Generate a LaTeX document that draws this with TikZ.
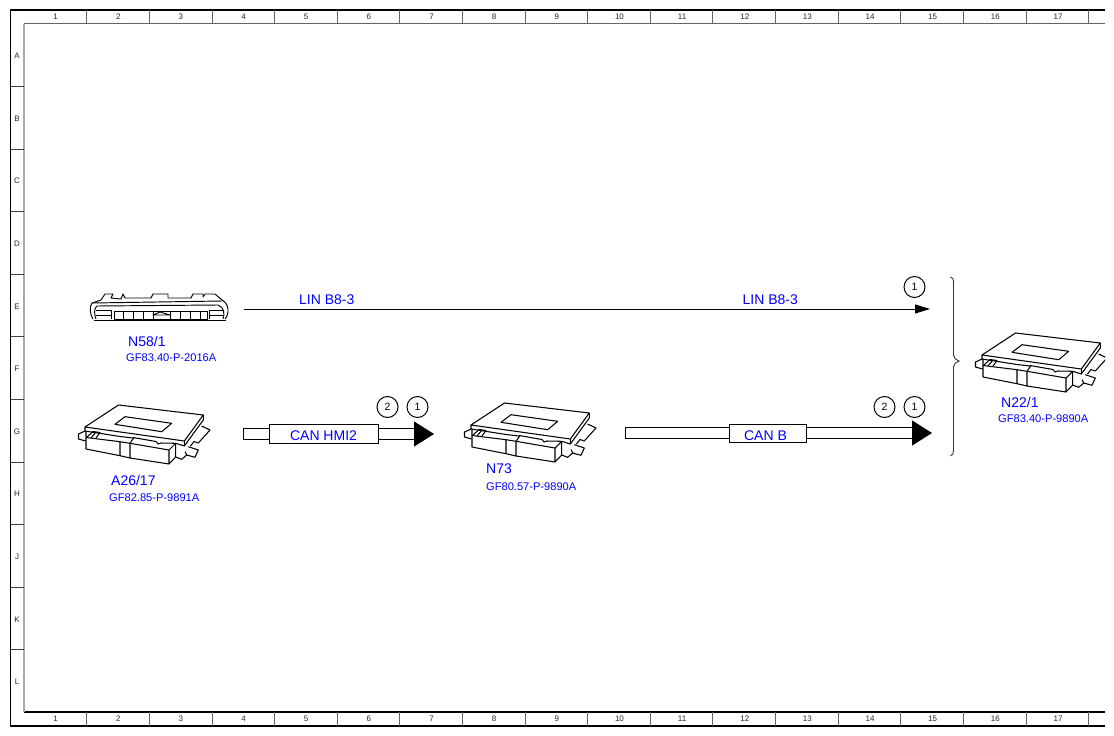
\documentclass[tikz,border=0pt]{standalone}
\usepackage{fontspec}
\setmainfont{Liberation Sans}
\usetikzlibrary{arrows.meta}
\definecolor{labelblue}{RGB}{0,0,255}
\definecolor{framegrey}{RGB}{100,100,100}
\definecolor{railgrey}{RGB}{170,170,170}
\tikzset{
  gridtext/.style={font=\fontsize{8}{9}\selectfont,text=black!85,inner sep=0pt},
  tag/.style={font=\fontsize{14}{16}\selectfont,text=labelblue,inner sep=0pt,anchor=west},
  code/.style={font=\fontsize{11.1}{13}\selectfont,text=labelblue,inner sep=0pt,anchor=west},
  refmark/.style={circle,draw,line width=1pt,minimum size=21pt,inner sep=0pt,font=\fontsize{10.5}{12}\selectfont},
  busbox/.style={draw,line width=1pt,fill=white,inner sep=0pt,minimum height=18.5pt,font=\fontsize{14}{16}\selectfont,text=labelblue},
  bus/.style={line width=1.1pt,double,double distance=9.5pt,line cap=butt},
  busend/.style={line width=1.1pt,line cap=rect},
  bushead/.style={-{Triangle[length=20pt,width=25pt]},line width=1pt},
  thin line/.style={line width=1.05pt,line join=round},
  ecu/.pic={
    \begin{scope}[thin line]
      % flanges
      \draw (85,431) -- (78.5,434) -- (78.5,439) -- (85.5,441);
      \draw (201.5,426) -- (210,430) -- (198.3,443) -- (194,441.5) -- (190.5,446);
      \draw (188.3,446.7) -- (198.3,450) -- (195,457.3) -- (186.7,455) -- (185,451.5);
      \draw (175.7,457) -- (181.7,459.3) -- (186.7,455);
      % plate
      \draw (85,427) -- (118.5,405) -- (203.3,415) -- (184.3,441) -- cycle;
      \draw (85,427) -- (85,431) -- (120,436.5) -- (133,438);
      \draw (203.3,415) -- (203.3,420) -- (184.3,446) -- (184.3,441);
      \draw (184.3,446) -- (175.7,443.3);
      % window
      \draw (115,424.3) -- (125,416.7) -- (171.7,423.3) -- (161.7,431.7) -- cycle;
      % left connector
      \draw (86,431) -- (86,449) -- (120,455.7) -- (120,441.7) -- (86,437.5);
      \draw (87,437) -- (93,431.5) -- (100,432.5) -- (96,438);
      \draw (91,438) -- (96,432);
      % middle
      \draw (120,441.7) -- (130,443.3) -- (130,458);
      \draw (120,455.7) -- (130,458);
      \draw (130,443.3) -- (134,437.5);
      % right connector
      \draw (130,458) -- (169,464) -- (169,450) -- (130,443.3);
      \draw (133,437.5) -- (156,441.5) -- (158,444) -- (161,443) -- (175.7,443.3);
      \draw (169,464) -- (175.7,457) -- (175.7,443.3) -- (169,450);
    \end{scope}
  },
  hvac/.pic={
    \begin{scope}[line width=0.95pt,line join=round]
      \draw (93,319) .. controls (89.5,314) and (89.5,306) .. (92,303) -- (101,300) -- (105,294) -- (113,294) -- (111,298)
        -- (121,299) -- (123,294) -- (125,298) -- (151,298) -- (153,294) -- (168,294) -- (168,298) -- (191,298)
        -- (193,294) -- (203,294) -- (203,297) -- (205,294) -- (215,294) -- (222,300)
        .. controls (229.5,304) and (229.5,314) .. (225,319);
      \draw (92,303) -- (222,301);
      \draw (96,319) .. controls (94,314) and (94,308) .. (97,306) -- (218,305) .. controls (224,307) and (225,314) .. (223,319);
      \draw (94,320) -- (226,320);
      \draw (96,310.5) -- (111,310.5) -- (111,319);
      \draw (96,315) -- (111,315);
      \draw (209,310.5) -- (224,310.5);
      \draw (209,315) -- (224,315);
      \draw (209,310.5) -- (209,319);
      \draw (114,311.5) -- (207,311.5) -- (207,319) -- (114,319) -- cycle;
      \foreach \xc in {123,133,143,153,170,180,190,200} \draw (\xc,311.5) -- (\xc,319);
      \draw (153,315) -- (160,312) -- (170,315) -- cycle;
    \end{scope}
  }
}
\begin{document}
\begin{tikzpicture}[x=1pt,y=-1pt]
\useasboundingbox (0,0) rectangle (1114,736);
\fill[white] (0,0) rectangle (1114,736);
% frame
\draw[line width=1.4pt] (1105,10) -- (10.5,10) -- (10.5,726) -- (1105,726);
\draw[line width=1.1pt] (24,712) -- (1105,712);
\draw[line width=1.2pt,framegrey] (24,23.5) -- (1105,23.5);
\draw[line width=1.6pt,railgrey] (24,23.5) -- (24,712);
\foreach \xc in {86.5,149,212,274.5,337,399.5,462,525,587.5,650,712.5,775,838,900.5,963,1026,1088}{
  \draw[line width=1pt,framegrey] (\xc,10) -- (\xc,23.5);
  \draw[line width=1pt,framegrey] (\xc,712) -- (\xc,726);
}
\foreach \yc in {86,149,211,274,336,399,462,524,587,649}
  \draw[line width=1pt,black!75] (10.5,\yc) -- (24,\yc);
\foreach \lab [count=\i] in {1,...,17}{
  \pgfmathsetmacro{\xl}{55.6+62.65*(\i-1)}
  \node[gridtext] (top\i) at (\xl,17) {\lab};
  \node[gridtext] (bot\i) at (\xl,719) {\lab};
}
\foreach \lab [count=\i] in {A,B,C,D,E,F,G,H,J,K,L}{
  \pgfmathsetmacro{\yl}{56+62.6*(\i-1)}
  \node[gridtext] (row\i) at (17,\yl) {\lab};
}
% devices
\pic {hvac};
\pic {ecu};
\begin{scope}[shift={(386,-2)}] \pic {ecu}; \end{scope}
\begin{scope}
  \clip (0,0) rectangle (1105,736);
  \begin{scope}[shift={(897,-72)}] \pic {ecu}; \end{scope}
\end{scope}
% device labels
\node[tag] (n58) at (128,341) {N58/1};
\node[code] (n58c) at (126,358) {GF83.40-P-2016A};
\node[tag] (a26) at (111,480) {A26/17};
\node[code] (a26c) at (109,498) {GF82.85-P-9891A};
\node[tag] (n73) at (486,469) {N73};
\node[code] (n73c) at (486,487) {GF80.57-P-9890A};
\node[tag] (n22) at (1001,402) {N22/1};
\node[code] (n22c) at (998,419) {GF83.40-P-9890A};
% LIN
\coordinate (linA) at (244,309);
\coordinate (linB) at (930,309);
\draw[line width=0.95pt,-{Triangle[length=15pt,width=9pt]}] (linA) -- (linB);
\node[tag] (lin1) at (299,299.5) {LIN B8-3};
\node[tag] (lin2) at (742.5,299.5) {LIN B8-3};
% CAN HMI2
\coordinate (hmiA) at (243.5,434);
\coordinate (hmiM) at (415,434);
\coordinate (hmiB) at (434,434);
\draw[bus] (hmiA) -- (hmiM);
\draw[busend] ([yshift=-5.3pt]hmiA) -- ([yshift=5.3pt]hmiA);
\draw[bushead] (hmiM) -- (hmiB);
\node[busbox,minimum width=109pt] (hmi) at (323.5,434) {\raisebox{-6.5pt}[0pt][0pt]{CAN HMI2}};
% CAN B
\coordinate (canA) at (625.5,433);
\coordinate (canM) at (913,433);
\coordinate (canB) at (932,433);
\draw[bus] (canA) -- (canM);
\draw[busend] ([yshift=-5.3pt]canA) -- ([yshift=5.3pt]canA);
\draw[bushead] (canM) -- (canB);
\node[busbox,minimum width=77pt] (can) at (767.5,433.5) {\raisebox{-6.5pt}[0pt][0pt]{CAN B\hspace*{4pt}}};
% reference marks
\node[refmark] (m1) at (914.5,287) {1};
\node[refmark] (m2) at (387.5,407) {2};
\node[refmark] (m3) at (417.5,407) {1};
\node[refmark] (m4) at (884.5,407) {2};
\node[refmark] (m5) at (914.5,407) {1};
% brace
\draw[line width=0.9pt,black!80] (950.5,277) .. controls (953,278) and (953.5,279) .. (953.5,282) -- (953.5,355)
  .. controls (953.5,358) and (956,360) .. (959,361) .. controls (956,362) and (953.5,364) .. (953.5,367)
  -- (953.5,450) .. controls (953.5,453) and (953,455) .. (950.5,456);
\end{tikzpicture}
\end{document}
